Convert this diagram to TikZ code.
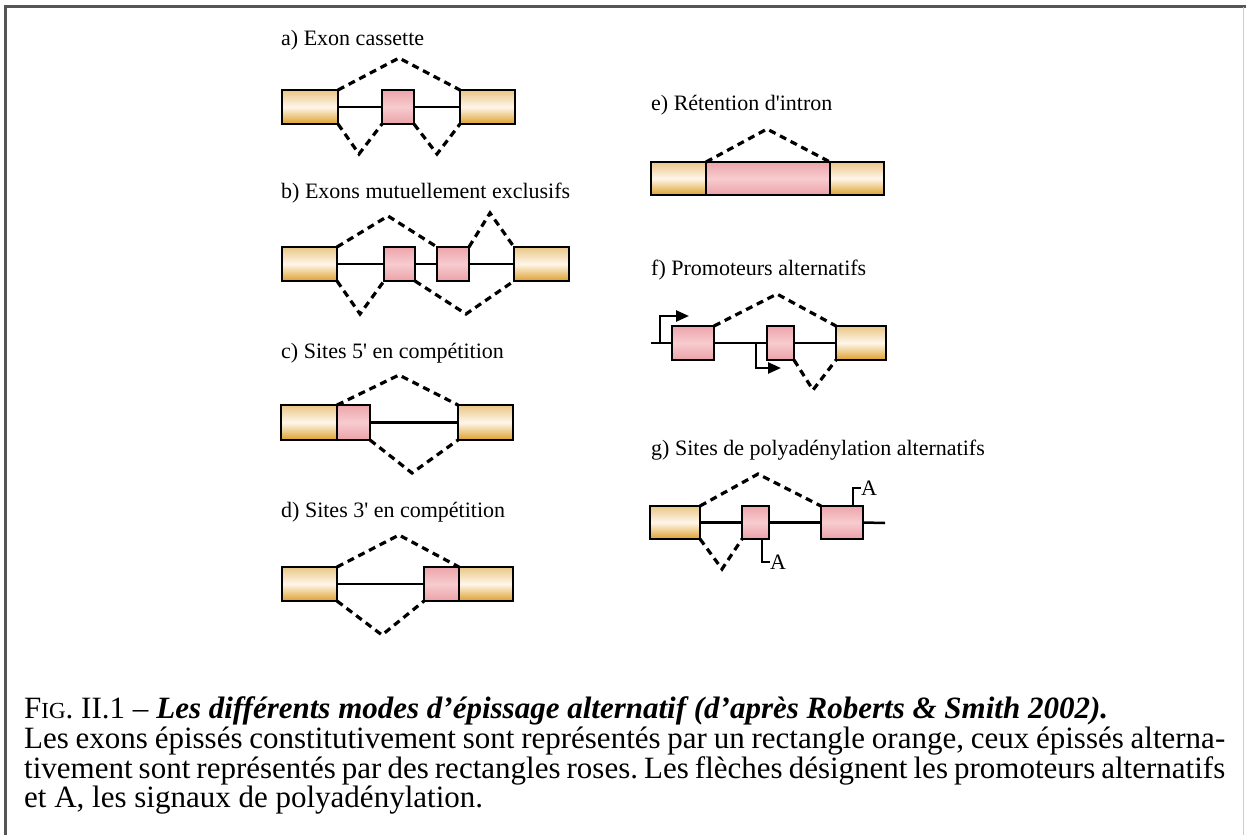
\documentclass[tikz,border=0pt]{standalone}
\usepackage{fontspec}
\setmainfont{Liberation Serif}
\usetikzlibrary{arrows.meta}
\frenchspacing
\definecolor{orT}{HTML}{E9C685}
\definecolor{orM}{HTML}{FFF6EA}
\definecolor{orB}{HTML}{DDA02C}
\definecolor{pkT}{HTML}{ECA5AB}
\definecolor{pkM}{HTML}{F7CBCF}
\definecolor{pkB}{HTML}{EAA2A8}
\definecolor{frm}{HTML}{555555}
\newcommand\bx[6]{\node[#1, anchor=north west, minimum width={#4pt-#2pt}, minimum height={#5pt-#3pt}] (#6) at (#2,#3) {};}
\tikzset{
  exbase/.style={draw=black, line width=2.8pt, inner sep=0pt, outer sep=0pt},
  exo/.style={exbase, top color=orT, bottom color=orB, middle color=orM},
  exa/.style={exbase, top color=pkT, bottom color=pkB, middle color=pkM},
  intron/.style={draw=black, line width=2.5pt},
  spl/.style={draw=black, line width=3.2pt, dash pattern=on 7pt off 5pt},
  lbl/.style={inner sep=0pt, font=\fontsize{22}{26}\selectfont},
  capt/.style={inner sep=0pt, anchor=base west, font=\fontsize{31}{34}\selectfont},
  prom/.style={draw=black, line width=2.5pt, -{Triangle[length=13pt,width=11pt]}},
  polya/.style={draw=black, line width=2.5pt},
}
\begin{document}
\begin{tikzpicture}[x=1pt,y=-1pt]
\useasboundingbox (0,0) rectangle (1246,835);
\fill[white] (0,0) rectangle (1246,835);
% frame
\draw[frm, line width=2.4pt] (5.5,835) -- (5.5,6.5) -- (1246,6.5);
\draw[black!20, line width=1pt] (1243,6.5) -- (1243,835);

% ---------- a) Exon cassette
\node[lbl, anchor=west] (la) at (281,40) {a) Exon cassette};
\bx{exo}{282}{90}{338}{124}{aL}
\bx{exa}{382}{90}{414}{124}{aP}
\bx{exo}{460}{90}{515}{124}{aR}
\draw[intron] (aL.east) -- (aP.west);
\draw[intron] (aP.east) -- (aR.west);
\coordinate (apk) at (399,58);
\coordinate (av1) at (359,154);
\coordinate (av2) at (437,154);
\draw[spl] (aL.north east) -- (apk) -- (aR.north west);
\draw[spl] (aL.south east) -- (av1) -- (aP.south west);
\draw[spl] (aP.south east) -- (av2) -- (aR.south west);

% ---------- b) Exons mutuellement exclusifs
\node[lbl, anchor=west] (lb) at (281,193) {b) Exons mutuellement exclusifs};
\bx{exo}{282}{247}{337}{281}{bL}
\bx{exa}{384}{247}{415}{281}{bP1}
\bx{exa}{437}{247}{469}{281}{bP2}
\bx{exo}{514}{247}{569}{281}{bR}
\draw[intron] (bL.east) -- (bP1.west);
\draw[intron] (bP1.east) -- (bP2.west);
\draw[intron] (bP2.east) -- (bR.west);
\coordinate (bpk1) at (388,216);
\coordinate (bpk2) at (490,213);
\coordinate (bv1) at (360,314);
\coordinate (bv2) at (466,314);
\draw[spl] (bL.north east) -- (bpk1) -- (bP2.north west);
\draw[spl] (bP2.north east) -- (bpk2) -- (bR.north west);
\draw[spl] (bL.south east) -- (bv1) -- (bP1.south west);
\draw[spl] (bP1.south east) -- (bv2) -- (bR.south west);

% ---------- c) Sites 5'
\node[lbl, anchor=west] (lc) at (281,353) {c) Sites 5\textquotesingle{} en compétition};
\bx{exo}{281}{405}{337}{440}{cL}
\bx{exa}{337}{405}{370}{440}{cP}
\bx{exo}{458}{405}{513}{440}{cR}
\draw[intron] (cP.east) -- (cR.west);
\coordinate (cpk) at (399,375);
\coordinate (cv) at (412,473);
\draw[spl] (cL.north east) -- (cpk) -- (cR.north west);
\draw[spl] (cP.south east) -- (cv) -- (cR.south west);

% ---------- d) Sites 3'
\node[lbl, anchor=west] (ld) at (281,512) {d) Sites 3\textquotesingle{} en compétition};
\bx{exo}{282}{567}{337}{601}{dL}
\bx{exa}{424}{567}{459}{601}{dP}
\bx{exo}{459}{567}{513}{601}{dR}
\draw[intron] (dL.east) -- (dP.west);
\coordinate (dpk) at (399,535);
\coordinate (dv) at (382,635);
\draw[spl] (dL.north east) -- (dpk) -- (dR.north west);
\draw[spl] (dL.south east) -- (dv) -- (dP.south west);

% ---------- e) Retention d'intron
\node[lbl, anchor=west] (le) at (651,105) {e) Rétention d\textquotesingle intron};
\bx{exo}{651}{162}{706}{195}{eL}
\bx{exa}{706}{162}{830}{195}{eP}
\bx{exo}{830}{162}{884}{195}{eR}
\coordinate (epk) at (767,129);
\draw[spl] (eL.north east) -- (epk) -- (eR.north west);

% ---------- f) Promoteurs alternatifs
\node[lbl, anchor=west] (lf) at (651,270) {f) Promoteurs alternatifs};
\bx{exa}{672}{326}{714}{360}{fP1}
\bx{exa}{767}{326}{794}{360}{fP2}
\bx{exo}{836}{326}{886}{360}{fR}
\coordinate (fs) at (651,343);
\draw[intron] (fs) -- (fP1.west);
\draw[intron] (fP1.east) -- (fP2.west);
\draw[intron] (fP2.east) -- (fR.west);
\coordinate (fa1) at (660,343);
\coordinate (fa1t) at (689,316);
\coordinate (fa2) at (756,343);
\coordinate (fa2t) at (781,368);
\draw[prom] (fa1) |- (fa1t);
\draw[prom] (fa2) |- (fa2t);
\coordinate (fpk) at (777,294);
\coordinate (fv) at (813,390);
\draw[spl] (fP1.north east) -- (fpk) -- (fR.north west);
\draw[spl] (fP2.south east) -- (fv) -- (fR.south west);

% ---------- g) Sites de polyadenylation alternatifs
\node[lbl, anchor=west] (lg) at (651,450) {g) Sites de polyadénylation alternatifs};
\bx{exo}{650}{506}{700}{539}{gL}
\bx{exa}{742}{506}{769}{539}{gP1}
\bx{exa}{821}{506}{863}{539}{gP2}
\coordinate (ge) at (885,523);
\draw[intron] (gL.east) -- (gP1.west);
\draw[intron] (gP1.east) -- (gP2.west);
\draw[intron] (gP2.east) -- (ge);
\coordinate (gpk) at (758,474);
\coordinate (gv) at (722,569);
\draw[spl] (gL.north east) -- (gpk) -- (gP2.north west);
\draw[spl] (gL.south east) -- (gv) -- (gP1.south west);
\coordinate (gs2) at (853,506);
\coordinate (gs1) at (762,539);
\node[lbl, anchor=west] (gA2) at (861,488) {A};
\node[lbl, anchor=west] (gA1) at (770,562) {A};
\draw[polya] (gs2) |- (gA2.west);
\draw[polya] (gs1) |- (gA1.west);

% ---------- caption
\node[capt] (cap1) at (24,718) {F{\fontsize{23}{26}\selectfont IG}. II.1 -- \textbf{\textit{Les différents modes d’épissage alternatif (d’après Roberts \& Smith 2002).}}};
\node[capt] (cap2) at (24,748) {\makebox[1201pt][s]{Les exons épissés constitutivement sont représentés par un rectangle orange, ceux épissés alterna-}};
\node[capt] (cap3) at (24,778) {\makebox[1201pt][s]{tivement sont représentés par des rectangles roses. Les flèches désignent les promoteurs alternatifs}};
\node[capt] (cap4) at (24,807) {et A, les signaux de polyadénylation.};
\end{tikzpicture}
\end{document}
